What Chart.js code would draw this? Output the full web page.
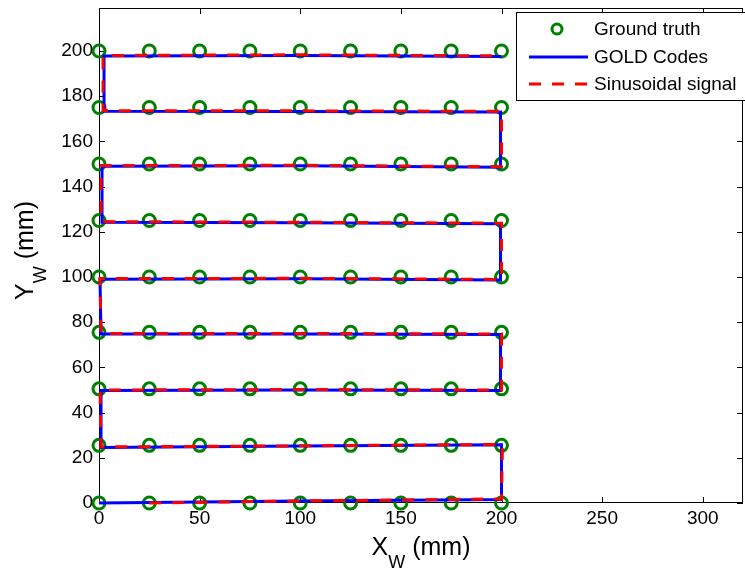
<!DOCTYPE html>
<html>
<head>
<meta charset="utf-8">
<script src="https://cdn.jsdelivr.net/npm/chart.js@4.4.0/dist/chart.umd.min.js"></script>
<style>
  body { margin: 0; background: #fff; }
  canvas { display: block; }
</style>
</head>
<body>
<canvas id="trackChart" width="745" height="576"></canvas>
<script>
// ground truth grid (mm)
const truthX = [0, 25, 50, 75, 100, 125, 150, 175, 200];
const truthRowY = [0, 25.5, 50.5, 75.5, 100, 125, 150, 175, 200];

// GOLD codes estimate
const goldX = [0, 100, 200, 200, 100, 1, 1, 100, 199.5, 199.5, 100, 1, 0.5, 100, 199.5, 199.5, 100, 1.5, 1.5, 100, 199.5, 199.5, 100, 2.5, 2.5, 100, 200];
const goldY = [0, 0.9, 1.5, 25.8, 25.2, 24.6, 49.8, 50, 49.8, 74.5, 74.8, 74.8, 99, 99.2, 98.7, 123.5, 124, 124.2, 149, 149.2, 148.5, 173, 173.2, 173.3, 197.8, 198, 197.5];

// sinusoidal signal estimate
const sinX = [25, 100, 200, 200.5, 100, 1, 0.5, 100, 200, 200, 100, 1, 0.5, 100, 200, 200, 100, 1, 1, 100, 200, 200, 100, 2, 2, 100, 200];
const sinY = [0, 0.9, 1.8, 25.9, 25.3, 24.8, 50, 50.2, 50, 74.8, 75, 75, 99.3, 99.4, 98.9, 123.8, 124.2, 124.5, 149.3, 149.4, 148.8, 173.3, 173.5, 173.6, 198, 198.3, 197.8];

const xTicks = [0, 50, 100, 150, 200, 250, 300];
const yTicks = [0, 20, 40, 60, 80, 100, 120, 140, 160, 180, 200];
const seriesNames = ['Ground truth', 'GOLD Codes', 'Sinusoidal signal'];

const FONT = '"Liberation Sans", Arial, sans-serif';
const GREEN = '#008000', BLUE = '#0000ff', RED = '#ff0000';

const truthPts = [];
truthRowY.forEach(y => truthX.forEach(x => truthPts.push({ x: x, y: y })));
const goldPts = goldX.map((x, i) => ({ x: x, y: goldY[i] }));
const sinPts = sinX.map((x, i) => ({ x: x, y: sinY[i] }));

// draws a label with a subscript, centred on cx
function subLabel(ctx, main, sub, rest, cx, baseY) {
    ctx.font = '25px ' + FONT;
    const w1 = ctx.measureText(main).width;
    const w3 = ctx.measureText(rest).width;
    ctx.font = '18px ' + FONT;
    const w2 = ctx.measureText(sub).width;
    let x = cx - (w1 + w2 + w3) / 2;
    ctx.textAlign = 'left';
    ctx.textBaseline = 'alphabetic';
    ctx.font = '25px ' + FONT;
    ctx.fillText(main, x, baseY);
    ctx.font = '18px ' + FONT;
    ctx.fillText(sub, x + w1, baseY + 13);
    ctx.font = '25px ' + FONT;
    ctx.fillText(rest, x + w1 + w2, baseY);
}

const matlabLook = {
    id: 'matlabLook',
    beforeDraw(chart) {
        const ctx = chart.ctx;
        ctx.save();
        ctx.fillStyle = '#fff';
        ctx.fillRect(0, 0, chart.width, chart.height);
        ctx.restore();
    },
    beforeDatasetsDraw(chart) {
        // axes box drawn under the marks, like MATLAB
        const ctx = chart.ctx;
        const a = chart.chartArea;
        const xs = chart.scales.x, ys = chart.scales.y;
        ctx.save();
        ctx.strokeStyle = '#000';
        ctx.lineWidth = 1;
        ctx.strokeRect(a.left + 0.5, a.top + 0.5, a.right - a.left - 1, a.bottom - a.top - 1);
        ctx.beginPath();
        xs.ticks.forEach(t => {
            const p = Math.round(xs.getPixelForValue(t.value)) + 0.5;
            ctx.moveTo(p, a.bottom); ctx.lineTo(p, a.bottom - 6);
            ctx.moveTo(p, a.top); ctx.lineTo(p, a.top + 6);
        });
        ys.ticks.forEach(t => {
            const p = Math.round(ys.getPixelForValue(t.value)) + 0.5;
            ctx.moveTo(a.left, p); ctx.lineTo(a.left + 6, p);
            ctx.moveTo(a.right, p); ctx.lineTo(a.right - 6, p);
        });
        ctx.stroke();
        ctx.restore();
    },
    afterDraw(chart) {
        const ctx = chart.ctx;
        const a = chart.chartArea;
        ctx.save();

        // axis labels
        ctx.fillStyle = '#000';
        subLabel(ctx, 'X', 'W', ' (mm)', (a.left + a.right) / 2, 555);
        ctx.save();
        ctx.translate(33, (a.top + a.bottom) / 2 - 5);
        ctx.rotate(-Math.PI / 2);
        subLabel(ctx, 'Y', 'W', ' (mm)', 0, 0);
        ctx.restore();

        // legend box
        const lx = 516, ly = 12, lw = 232, lh = 88;
        ctx.fillStyle = '#fff';
        ctx.fillRect(lx, ly, lw, lh);
        ctx.strokeStyle = '#000';
        ctx.lineWidth = 1;
        ctx.strokeRect(lx + 0.5, ly + 0.5, lw, lh);
        const rows = [29, 57, 84];
        ctx.lineWidth = 3;
        ctx.strokeStyle = GREEN;
        ctx.beginPath();
        ctx.arc(557, rows[0], 5, 0, Math.PI * 2);
        ctx.stroke();
        ctx.strokeStyle = BLUE;
        ctx.beginPath();
        ctx.moveTo(529, rows[1]); ctx.lineTo(588, rows[1]);
        ctx.stroke();
        ctx.strokeStyle = RED;
        ctx.setLineDash([12, 11]);
        ctx.beginPath();
        ctx.moveTo(529, rows[2]); ctx.lineTo(588, rows[2]);
        ctx.stroke();
        ctx.setLineDash([]);
        ctx.fillStyle = '#000';
        ctx.font = '19px ' + FONT;
        ctx.textAlign = 'left';
        ctx.textBaseline = 'middle';
        seriesNames.forEach((s, i) => ctx.fillText(s, 594, rows[i] + 1));
        ctx.restore();
    }
};

new Chart(document.getElementById('trackChart'), {
    type: 'scatter',
    data: {
        datasets: [
            {
                label: seriesNames[0],
                data: truthPts,
                order: 3,
                clip: false,
                showLine: false,
                pointRadius: 6,
                pointBorderWidth: 3,
                pointBorderColor: GREEN,
                pointBackgroundColor: 'rgba(0,0,0,0)'
            },
            {
                label: seriesNames[1],
                data: goldPts,
                order: 2,
                clip: false,
                showLine: true,
                borderColor: BLUE,
                borderWidth: 3,
                pointRadius: 0,
                tension: 0
            },
            {
                label: seriesNames[2],
                data: sinPts,
                order: 1,
                clip: false,
                showLine: true,
                borderColor: RED,
                borderWidth: 3,
                borderDash: [12, 11],
                pointRadius: 0,
                tension: 0
            }
        ]
    },
    options: {
        responsive: false,
        animation: false,
        layout: { autoPadding: false, padding: { top: 8, right: 2, left: 0, bottom: 0 } },
        plugins: {
            legend: { display: false },
            tooltip: { enabled: false }
        },
        scales: {
            x: {
                type: 'linear',
                min: 0,
                max: 320,
                grid: { display: false, drawTicks: false },
                border: { display: false },
                afterBuildTicks: s => { s.ticks = xTicks.map(v => ({ value: v })); },
                afterFit: s => { s.height = 73; s.paddingLeft = 0; s.paddingRight = 0; },
                ticks: { color: '#000', padding: 4, font: { family: FONT, size: 19 } }
            },
            y: {
                type: 'linear',
                min: 0,
                max: 219,
                grid: { display: false, drawTicks: false },
                border: { display: false },
                afterBuildTicks: s => { s.ticks = yTicks.map(v => ({ value: v })); },
                afterFit: s => { s.width = 99; s.paddingTop = 0; s.paddingBottom = 0; },
                ticks: { color: '#000', padding: 6, font: { family: FONT, size: 19 } }
            }
        }
    },
    plugins: [matlabLook]
});
</script>
</body>
</html>
